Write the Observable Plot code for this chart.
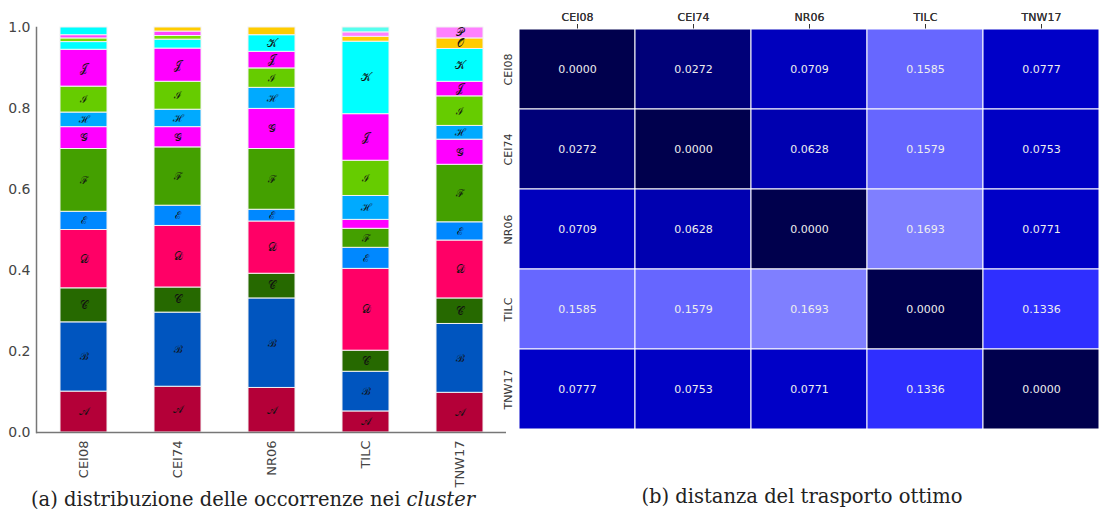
<!DOCTYPE html>
<html>
<head>
<meta charset="utf-8">
<script src="https://cdn.jsdelivr.net/npm/d3@7"></script>
<script src="https://cdn.jsdelivr.net/npm/@observablehq/plot@0.6"></script>
<style>
  html, body { margin: 0; padding: 0; background: #fff; width: 1099px; height: 514px; overflow: hidden; }
  #wrap { position: relative; width: 1099px; height: 514px; }
  #left { position: absolute; left: 0; top: 0; }
  #right { position: absolute; left: 490px; top: 0; }
  .cap { position: absolute; font-family: "DejaVu Serif", "Liberation Serif", serif; font-size: 19.5px; line-height: 22px; color: #222; white-space: nowrap; transform: translateX(-50%); }
  #right text { font-weight: normal; }
</style>
</head>
<body>
<div id="wrap">
  <div id="left"></div>
  <div id="right"></div>
  <div class="cap" style="left:253px; top:489px;">(a) distribuzione delle occorrenze nei <i>cluster</i></div>
  <div class="cap" style="left:802px; top:486px;">(b) distanza del trasporto ottimo</div>
</div>
<script>
// ---- data: left chart (cluster occurrence distribution) ----
const groups = ["CEI08", "CEI74", "NR06", "TILC", "TNW17"];
const clusters = ["A","B","C","D","E","F","G","H","I","J","K","L","M","N","O","P","Q"];
const clusterLabels = ["𝒜","ℬ","𝒞","𝒟","ℰ","ℱ","𝒢","ℋ","ℐ","𝒥","𝒦","ℒ","ℳ","𝒩","𝒪","𝒫","𝒬"];
const clusterColors = ["#b40038","#0055bf","#266900","#ff0066","#0088ff","#44a000","#ff00ff","#00aaff","#66cc00","#ff00ff","#00ffff","#77dd00","#ff44ff","#00ffff","#ffcc00","#ff80ff","#55ffee"];
const valuesCEI08 = [0.101,0.171,0.084,0.144,0.045,0.155,0.054,0.036,0.064,0.091,0.019,0.009,0.008,0.019,0,0,0];
const valuesCEI74 = [0.113,0.183,0.062,0.152,0.050,0.144,0.050,0.043,0.069,0.082,0.022,0.009,0.011,0,0.010,0,0];
const valuesNR06  = [0.110,0.221,0.061,0.129,0.029,0.150,0.099,0.052,0.048,0.041,0.041,0,0,0,0.019,0,0];
const valuesTILC  = [0.052,0.098,0.052,0.202,0.052,0.047,0.022,0.059,0.087,0.115,0.179,0,0,0,0.012,0.011,0.012];
const valuesTNW17 = [0.098,0.170,0.063,0.143,0.045,0.142,0.062,0.034,0.073,0.036,0.081,0,0,0,0.026,0.027,0];
const yTicks = [0, 0.2, 0.4, 0.6, 0.8, 1.0];

// ---- data: right chart (optimal transport distance) ----
const names = ["CEI08", "CEI74", "NR06", "TILC", "TNW17"];
const distCEI08 = [0.0000, 0.0272, 0.0709, 0.1585, 0.0777];
const distCEI74 = [0.0272, 0.0000, 0.0628, 0.1579, 0.0753];
const distNR06  = [0.0709, 0.0628, 0.0000, 0.1693, 0.0771];
const distTILC  = [0.1585, 0.1579, 0.1693, 0.0000, 0.1336];
const distTNW17 = [0.0777, 0.0753, 0.0771, 0.1336, 0.0000];

// ---- build tables ----
const seriesByGroup = [valuesCEI08, valuesCEI74, valuesNR06, valuesTILC, valuesTNW17];
const stackData = [];
groups.forEach((g, gi) => {
  seriesByGroup[gi].forEach((v, ci) => {
    if (v > 0) stackData.push({group: g, cluster: clusters[ci], label: clusterLabels[ci], value: v});
  });
});
const distRows = [distCEI08, distCEI74, distNR06, distTILC, distTNW17];
const cellData = [];
names.forEach((r, ri) => names.forEach((c, ci) => cellData.push({row: r, col: c, value: distRows[ri][ci]})));

// ---- left chart ----
const left = Plot.plot({
  width: 515,
  height: 500,
  marginLeft: 36,
  marginRight: 9,
  marginTop: 27,
  marginBottom: 68,
  style: {fontFamily: "DejaVu Sans, sans-serif", fontSize: "14px", color: "#444", background: "transparent", overflow: "visible"},
  x: {domain: groups, paddingInner: 0.5, paddingOuter: 0.25, label: null},
  y: {domain: [0, 1], label: null},
  color: {domain: clusters, range: clusterColors},
  marks: [
    Plot.barY(stackData, {x: "group", y: "value", fill: "cluster", stroke: "#f2f2f2", strokeWidth: 1}),
    Plot.text(stackData, Plot.stackY({x: "group", y: "value",
      text: d => d.value >= 0.025 ? d.label : "",
      fontSize: 10.5, fill: "#111", fontFamily: "DejaVu Serif, serif"})),
    Plot.axisY({ticks: yTicks, tickFormat: d3.format(".1f"), tickSize: 0, tickPadding: 6, fontSize: 14, fill: "#444"}),
    Plot.axisX({tickRotate: -90, tickSize: 0, tickPadding: 8, fontSize: 13, fill: "#444"}),
    Plot.ruleY([0], {stroke: "#777", strokeWidth: 1.5}),
    Plot.frame({anchor: "left", stroke: "#777", strokeWidth: 1.5})
  ]
});
document.getElementById("left").appendChild(left);

// ---- right chart ----
const right = Plot.plot({
  width: 609,
  height: 440,
  marginLeft: 29,
  marginRight: 0,
  marginTop: 29,
  marginBottom: 11,
  style: {fontFamily: "DejaVu Sans, sans-serif", fontSize: "11px", color: "#333", background: "transparent"},
  x: {domain: names, padding: 0, axis: "top", label: null},
  y: {domain: names, padding: 0, label: null},
  color: {type: "linear", domain: [0, 0.1129, 0.2258], range: ["#00004d", "#0000ff", "#ffffff"]},
  marks: [
    Plot.cell(cellData, {x: "col", y: "row", fill: "value", stroke: "white", strokeWidth: 1}),
    Plot.text(cellData, {x: "col", y: "row", text: d => d3.format(".4f")(d.value), fill: "#eeeeee", fontSize: 11}),
    Plot.axisX({anchor: "top", tickSize: 0, tickPadding: 9, fontSize: 11, fill: "#333", fontWeight: "normal"}),
    Plot.axisY({tickRotate: -90, tickSize: 0, tickPadding: 8, fontSize: 11, fill: "#333", fontWeight: "normal"})
  ]
});
document.getElementById("right").appendChild(right);
</script>
</body>
</html>
